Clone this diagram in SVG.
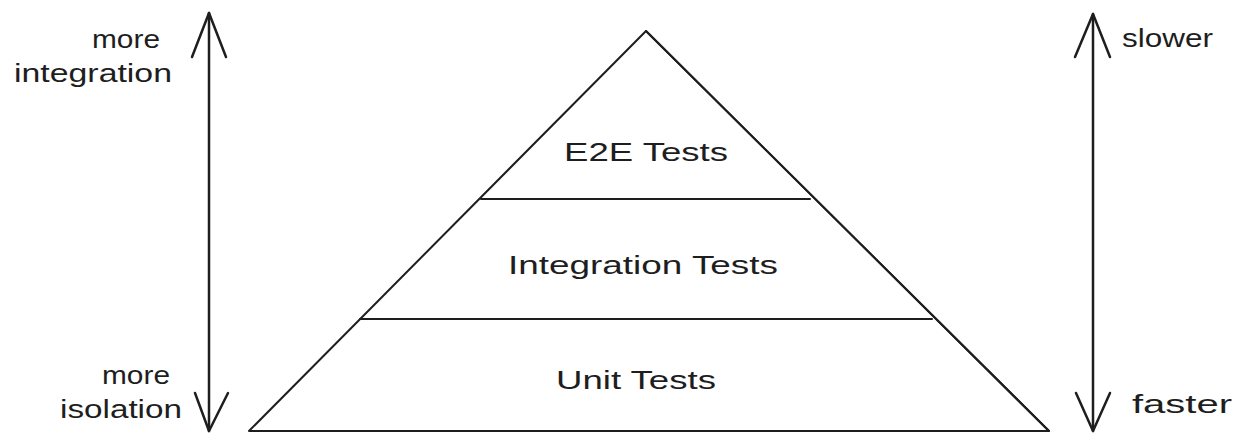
<svg xmlns="http://www.w3.org/2000/svg" width="1241" height="436" viewBox="0 0 1241 436">
<style>
.ln{fill:none;stroke:#1e1e1e;stroke-width:2;stroke-linecap:round;stroke-linejoin:round}
.ax{fill:none;stroke:#1e1e1e;stroke-width:2.5;stroke-linecap:round;stroke-linejoin:round}
.t{font-family:"Liberation Sans","DejaVu Sans",sans-serif;font-size:25px;fill:#1e1e1e}
</style>
<rect width="1241" height="436" fill="#ffffff"/>
<g id="pyramid">
<path class="ln" d="M249 431 L646 31 L1049 431 Z"/>
<path class="ln" d="M646 31 L1049 431" stroke-width="2.5"/>
</g>
<g id="e2e">
<line class="ln" x1="481" y1="199" x2="810" y2="199" stroke-width="2.5"/>
<text class="t" x="646" y="161" text-anchor="middle" textLength="164" lengthAdjust="spacingAndGlyphs">E2E Tests</text>
</g>
<g id="integration">
<line class="ln" x1="360" y1="319" x2="932" y2="319" stroke-width="2.5"/>
<text class="t" x="643" y="274" text-anchor="middle" textLength="270" lengthAdjust="spacingAndGlyphs">Integration Tests</text>
</g>
<g id="unit">
<text class="t" x="636" y="389" text-anchor="middle" textLength="160" lengthAdjust="spacingAndGlyphs">Unit Tests</text>
</g>
<g id="connectors">
<line class="ax" x1="209" y1="13" x2="209" y2="431"/>
<path class="ax" d="M192 57 L209 13 L226 57"/>
<path class="ax" d="M195 393 L209 431 L228 393"/>
<line class="ax" x1="1093" y1="14" x2="1093" y2="431"/>
<path class="ax" d="M1075 57 L1093 14 L1110 57"/>
<path class="ax" d="M1076 393 L1093 431 L1110 393"/>
</g>
<g id="labels">
<text class="t" x="160" y="48" text-anchor="end" textLength="68" lengthAdjust="spacingAndGlyphs">more</text>
<text class="t" x="172" y="82" text-anchor="end" textLength="158" lengthAdjust="spacingAndGlyphs">integration</text>
<text class="t" x="170" y="384" text-anchor="end" textLength="68" lengthAdjust="spacingAndGlyphs">more</text>
<text class="t" x="182" y="418" text-anchor="end" textLength="122" lengthAdjust="spacingAndGlyphs">isolation</text>
<text class="t" x="1122" y="47" textLength="91" lengthAdjust="spacingAndGlyphs">slower</text>
<text class="t" x="1132" y="413" textLength="100" lengthAdjust="spacingAndGlyphs">faster</text>
</g>
</svg>
